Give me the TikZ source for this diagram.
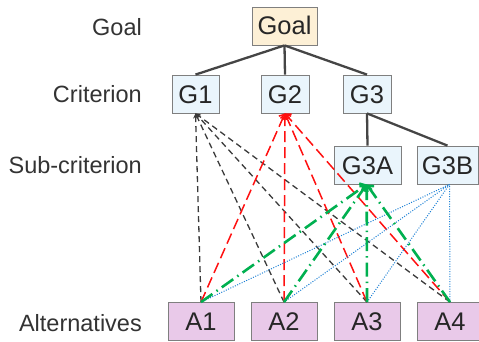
\documentclass[tikz,border=0pt]{standalone}
\usepackage{fontspec}
\setmainfont{Liberation Sans}
\usetikzlibrary{arrows.meta}
\definecolor{boxline}{HTML}{7F7F7F}
\definecolor{goalfill}{HTML}{FDF0D6}
\definecolor{critfill}{HTML}{EAF5FC}
\definecolor{altfill}{HTML}{E9C9E9}
\definecolor{treeline}{HTML}{454545}
\definecolor{gonedash}{HTML}{3A3A3A}
\definecolor{gtwored}{HTML}{FF1010}
\definecolor{gthreegreen}{HTML}{00B050}
\definecolor{gthreeblue}{HTML}{1A7FD4}
\tikzset{
  hbox/.style={draw=boxline, line width=0.8pt, inner sep=0pt,
    minimum height=38pt, text height=18pt, text depth=0pt,
    font=\fontsize{25.5}{30}\selectfont, text=black!85},
  goalbox/.style={hbox, fill=goalfill},
  critbox/.style={hbox, fill=critfill},
  altbox/.style={hbox, fill=altfill},
  levellabel/.style={anchor=east, inner sep=0pt, text height=17pt, text depth=0pt,
    font=\fontsize{23.5}{28}\selectfont, text=black!80},
  tree/.style={draw=treeline, line width=2.3pt},
  linkone/.style={draw=gonedash, line width=1.3pt, dash pattern=on 6pt off 4pt,
    -{Stealth[length=5pt,width=5pt]}},
  linktwo/.style={draw=gtwored, line width=1.5pt, dash pattern=on 11pt off 5pt,
    -{Straight Barb[length=4pt,width=9pt]}},
  linkthreeA/.style={draw=gthreegreen, line width=2.6pt,
    dash pattern=on 14pt off 5pt on 1.5pt off 5pt,
    -{Straight Barb[length=4pt,width=10pt]}},
  linkthreeB/.style={draw=gthreeblue, line width=1pt, dash pattern=on 1pt off 1.5pt},
}
\begin{document}
\begin{tikzpicture}[x=1pt,y=1pt]
\useasboundingbox (0,0) rectangle (479,341);
\clip (0,0) rectangle (479,341);

% level captions
\node[levellabel] (lgoal) at (142,314) {Goal};
\node[levellabel] (lcrit) at (142,247.5) {Criterion};
\node[levellabel] (lsub)  at (142,176.5) {Sub-criterion};
\node[levellabel] (lalt)  at (142,18.5) {Alternatives};

% hierarchy boxes
\node[goalbox, minimum width=65pt] (goal) at (284.5,315) {Goal};
\node[critbox, minimum width=47pt] (g1) at (195.5,247) {G1};
\node[critbox, minimum width=48pt] (g2) at (285,247) {G2};
\node[critbox, minimum width=48pt] (g3) at (367,247) {G3};
\node[critbox, minimum width=67pt] (g3a) at (367.5,176) {G3A};
\node[critbox, minimum width=61pt] (g3b) at (447.5,176) {G3B};
\node[altbox, minimum width=66pt] (a1) at (201,19.5) {A1};
\node[altbox, minimum width=66pt] (a2) at (284,19.5) {A2};
\node[altbox, minimum width=66pt] (a3) at (367,19.5) {A3};
\node[altbox, minimum width=66pt] (a4) at (450,19.5) {A4};

% tree edges
\draw[tree] (goal.south) -- (g1.north);
\draw[tree] (goal.south) -- (g2.north);
\draw[tree] (goal.south) -- (g3.north);
\draw[tree] (g3.south) -- (g3a.north);
\draw[tree] (g3.south) -- (g3b.north);

% links from alternatives to the lowest criteria
\foreach \a in {a1,a2,a3,a4} {
  \draw[linkone] (\a.north) -- (g1.south);
}
\foreach \a in {a1,a2,a3,a4} {
  \draw[linktwo] (\a.north) -- (g2.south);
}
\foreach \a in {a1,a2,a3,a4} {
  \draw[linkthreeB] (\a.north) -- ([xshift=2pt]g3b.south);
}
\foreach \a in {a1,a2,a3,a4} {
  \draw[linkthreeA] (\a.north) -- ([xshift=-0.8pt]g3a.south);
}
\end{tikzpicture}
\end{document}
